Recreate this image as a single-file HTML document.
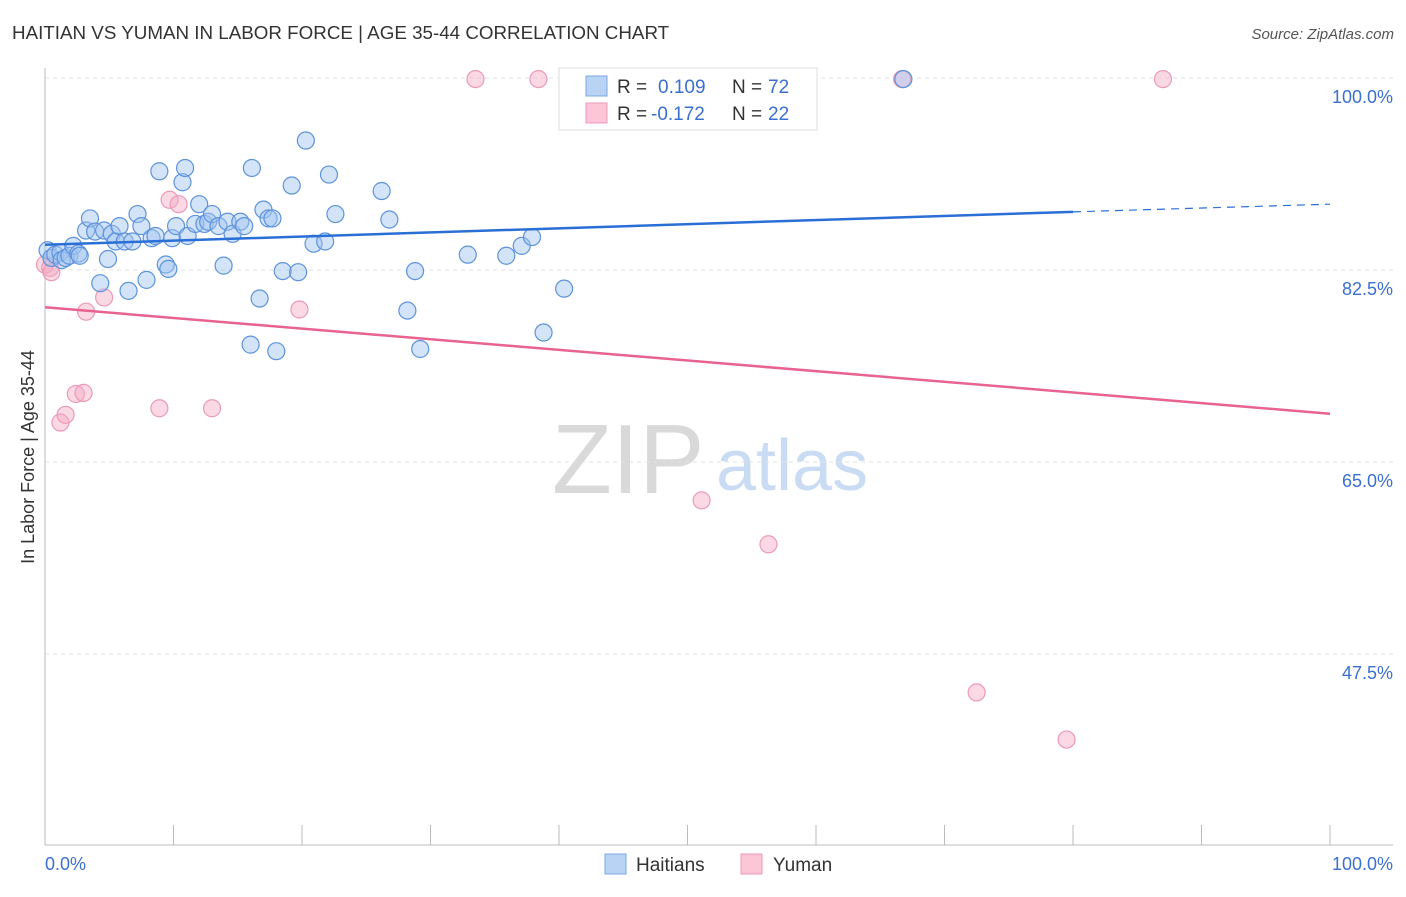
<!DOCTYPE html>
<html><head><meta charset="utf-8"><style>
body{margin:0;background:#fff;font-family:"Liberation Sans",sans-serif;}
svg text{font-family:"Liberation Sans",sans-serif;}
</style></head><body>
<svg width="1406" height="892" xmlns="http://www.w3.org/2000/svg">
<text x="12" y="39" font-size="18.8" fill="#333">HAITIAN VS YUMAN IN LABOR FORCE | AGE 35-44 CORRELATION CHART</text>
<text x="1394" y="39" font-size="15" fill="#555" text-anchor="end" font-style="italic">Source: ZipAtlas.com</text>
<g>
<text x="552" y="493" font-size="98" fill="#d9d9d9" font-family="Liberation Serif,serif">ZIP</text>
<text x="716" y="490" font-size="72" fill="#c9dcf3">atlas</text>
</g>
<g id="grid"></g>
<g id="axes"></g>
<g id="marks"></g>
<g>
<rect x="559" y="68" width="258" height="62" fill="#fff" stroke="#ddd"/>
<rect x="586" y="76" width="21" height="20" fill="#b9d3f5" stroke="#7aa7e3"/>
<rect x="586" y="103" width="21" height="20" fill="#fcc6d6" stroke="#ee9bb6"/>
<text x="617" y="93" font-size="19" fill="#333">R =</text>
<text x="658" y="93" font-size="19" fill="#3b6fd0">0.109</text>
<text x="732" y="93" font-size="19" fill="#333">N =</text>
<text x="768" y="93" font-size="19" fill="#3b6fd0">72</text>
<text x="617" y="120" font-size="19" fill="#333">R =</text>
<text x="651" y="120" font-size="19" fill="#3b6fd0">-0.172</text>
<text x="732" y="120" font-size="19" fill="#333">N =</text>
<text x="768" y="120" font-size="19" fill="#3b6fd0">22</text>
</g>
<g>
<rect x="605" y="854" width="21" height="20" fill="#b9d3f5" stroke="#7aa7e3"/>
<text x="636" y="871" font-size="19" fill="#333">Haitians</text>
<rect x="741" y="854" width="21" height="20" fill="#fcc6d6" stroke="#ee9bb6"/>
<text x="773" y="871" font-size="19" fill="#333">Yuman</text>
</g>
<text transform="translate(34,457) rotate(-90)" font-size="18" fill="#333" text-anchor="middle">In Labor Force | Age 35-44</text>
</svg>
<script>
const yTicks=[100,82.5,65,47.5];
const yTickLabels=["100.0%","82.5%","65.0%","47.5%"];
const xTickLabels=["0.0%","100.0%"];
const blueX=[0.2,0.5,0.8,1.2,1.3,1.6,1.9,2.2,2.6,2.7,3.2,3.5,3.9,4.3,4.6,4.9,5.2,5.5,5.8,6.2,6.5,6.8,7.2,7.5,7.9,8.3,8.6,8.9,9.4,9.6,9.9,10.2,10.7,10.9,11.1,11.7,12.0,12.4,12.7,13.0,13.5,13.9,14.2,14.6,15.2,15.5,16.0,16.1,16.7,17.0,17.4,17.7,18.0,18.5,19.2,19.7,20.3,20.9,21.8,22.1,22.6,26.2,26.8,28.2,28.8,29.2,32.9,35.9,37.1,37.9,38.8,40.4,66.8];
const blueY=[84.3,83.6,83.9,84.1,83.4,83.6,83.8,84.7,84.0,83.8,86.1,87.2,86.0,81.3,86.1,83.5,85.8,85.1,86.5,85.1,80.6,85.1,87.6,86.5,81.6,85.4,85.6,91.5,83.0,82.6,85.4,86.5,90.5,91.8,85.6,86.7,88.5,86.7,86.9,87.6,86.5,82.9,86.9,85.8,86.9,86.5,75.7,91.8,79.9,88.0,87.2,87.2,75.1,82.4,90.2,82.3,94.3,84.9,85.1,91.2,87.6,89.7,87.1,78.8,82.4,75.3,83.9,83.8,84.7,85.5,76.8,80.8,99.9];
const pinkX=[0,0.4,0.5,1.2,1.6,2.4,3.0,3.2,4.6,8.9,9.7,10.4,13.0,19.8,33.5,38.4,51.1,56.3,66.7,72.5,79.5,87.0];
const pinkY=[83.0,82.7,82.3,68.6,69.3,71.2,71.3,78.7,80.0,69.9,88.9,88.5,69.9,78.9,99.9,99.9,61.5,57.5,99.9,44.0,39.7,99.9];
const blueTrend=[84.8,87.8,88.5]; // at x=0, 80, 100
const pinkTrend=[79.1,69.4];      // at x=0, 100
const NS="http://www.w3.org/2000/svg";
const X0=45,X1=1330,Y100=78,PXP=192/17.5;
const sx=v=>X0+(X1-X0)*v/100;
const sy=v=>Y100+(100-v)*PXP;
function mk(tag,attrs,parent){const e=document.createElementNS(NS,tag);for(const k in attrs)e.setAttribute(k,attrs[k]);parent.appendChild(e);return e;}
const grid=document.getElementById('grid'),axes=document.getElementById('axes'),marks=document.getElementById('marks');
yTicks.forEach((t,i)=>{
 const l=mk('line',{x1:45,x2:1393,y1:sy(t),y2:sy(t),stroke:'#e2e2e2','stroke-dasharray':'4,4'},grid);
 
 
 const tx=mk('text',{x:1393,y:sy(t)+25,'font-size':18,fill:'#3b6fd0','text-anchor':'end'},axes);
 tx.textContent=yTickLabels[i];
 
 
});
let a=mk('line',{x1:45,x2:45,y1:68,y2:845,stroke:'#bbb'},axes);


a=mk('line',{x1:45,x2:1393,y1:845,y2:845,stroke:'#bbb'},axes);


for(let i=0;i<=10;i++){
 const t=mk('line',{x1:sx(i*10),x2:sx(i*10),y1:825,y2:845,stroke:'#bbb'},axes);
 
 
}
[[0,'start',45],[100,'end',1393]].forEach((d,i)=>{
 const t=mk('text',{x:d[2],y:870,'font-size':18,fill:'#3b6fd0','text-anchor':d[1]},axes);
 t.textContent=xTickLabels[i];
 
 
});
pinkX.forEach((x,i)=>{
 const c=mk('circle',{cx:sx(x),cy:sy(pinkY[i]),r:8.5,fill:'rgba(245,170,195,0.45)',stroke:'#ec9ab5','stroke-width':1.2},marks);
 
 
});
blueX.forEach((x,i)=>{
 const c=mk('circle',{cx:sx(x),cy:sy(blueY[i]),r:8.5,fill:'rgba(160,195,240,0.45)',stroke:'#5d93dc','stroke-width':1.2},marks);
 
 
});
let t=mk('line',{x1:sx(0),y1:sy(blueTrend[0]),x2:sx(80),y2:sy(blueTrend[1]),stroke:'#2a6fd6','stroke-width':2.5},marks);


t=mk('line',{x1:sx(80),y1:sy(blueTrend[1]),x2:sx(100),y2:sy(blueTrend[2]),stroke:'#2a6fd6','stroke-width':1.2,'stroke-dasharray':'8,6'},marks);


t=mk('line',{x1:sx(0),y1:sy(pinkTrend[0]),x2:sx(100),y2:sy(pinkTrend[1]),stroke:'#e8638f','stroke-width':2.5},marks);


</script>
</body></html>
